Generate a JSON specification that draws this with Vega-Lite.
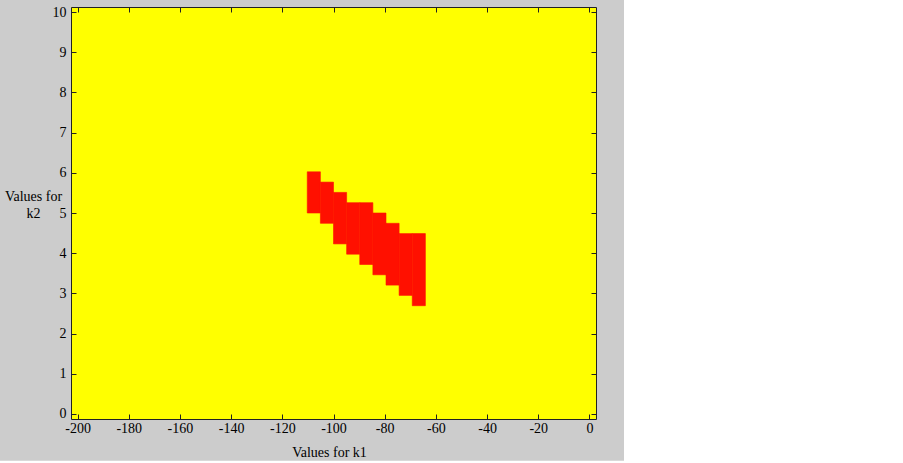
{
  "$schema": "https://vega.github.io/schema/vega-lite/v6.json",
  "width": 525,
  "height": 412,
  "autosize": {"type": "none"},
  "padding": {"left": 71, "top": 7, "right": 307, "bottom": 44},
  "background": "white",
  "config": {
    "view": {"stroke": null},
    "axis": {
      "grid": false,
      "labelFont": "Liberation Serif",
      "titleFont": "Liberation Serif",
      "labelFontSize": 14,
      "titleFontSize": 14,
      "titleFontWeight": "normal",
      "labelColor": "black",
      "titleColor": "black",
      "domainColor": "#222222",
      "tickColor": "#222222",
      "domainWidth": 1,
      "tickWidth": 1,
      "tickSize": -5
    }
  },
  "datasets": {
    "region": [
      {"k1_from": -110.2564, "k1_to": -105.1282, "k2_from": 5.0, "k2_to": 6.0256},
      {"k1_from": -105.1282, "k1_to": -100.0, "k2_from": 4.7436, "k2_to": 5.7692},
      {"k1_from": -100.0, "k1_to": -94.8718, "k2_from": 4.2308, "k2_to": 5.5128},
      {"k1_from": -94.8718, "k1_to": -89.7436, "k2_from": 3.9744, "k2_to": 5.2564},
      {"k1_from": -89.7436, "k1_to": -84.6154, "k2_from": 3.7179, "k2_to": 5.2564},
      {"k1_from": -84.6154, "k1_to": -79.4872, "k2_from": 3.4615, "k2_to": 5.0},
      {"k1_from": -79.4872, "k1_to": -74.359, "k2_from": 3.2051, "k2_to": 4.7436},
      {"k1_from": -74.359, "k1_to": -69.2308, "k2_from": 2.9487, "k2_to": 4.4872},
      {"k1_from": -69.2308, "k1_to": -64.1026, "k2_from": 2.6923, "k2_to": 4.4872}
    ]
  },
  "layer": [
    {
      "data": {"values": [{}]},
      "mark": {"type": "rect", "color": "#cccccc", "clip": false},
      "encoding": {
        "x": {"datum": -230.3, "type": "quantitative", "scale": {"domain": [-202.564, 2.564], "nice": false, "zero": false}, "axis": null},
        "x2": {"datum": 13.5},
        "y": {"datum": 10.31, "type": "quantitative", "scale": {"domain": [-0.128, 10.128], "nice": false, "zero": false}, "axis": null},
        "y2": {"datum": -1.17}
      }
    },
    {
      "data": {"values": [{}]},
      "mark": {"type": "rect", "color": "#ffff00"},
      "encoding": {
        "x": {"datum": -202.564, "type": "quantitative", "scale": {"domain": [-202.564, 2.564], "nice": false, "zero": false},
          "axis": {"orient": "top", "zindex": 2, "labels": false, "title": null, "values": [-200, -180, -160, -140, -120, -100, -80, -60, -40, -20, 0]}},
        "x2": {"datum": 2.564},
        "y": {"datum": -0.128, "type": "quantitative", "scale": {"domain": [-0.128, 10.128], "nice": false, "zero": false},
          "axis": {"orient": "right", "zindex": 2, "labels": false, "title": null, "values": [0, 1, 2, 3, 4, 5, 6, 7, 8, 9, 10]}},
        "y2": {"datum": 10.128}
      }
    },
    {
      "data": {"name": "region"},
      "mark": {"type": "rect", "color": "#ff1000", "stroke": "#ff1000", "strokeWidth": 0.6},
      "encoding": {
        "x": {"field": "k1_from", "type": "quantitative", "scale": {"domain": [-202.564, 2.564], "nice": false, "zero": false},
          "axis": {"orient": "bottom", "zindex": 2, "title": "Values for k1", "values": [-200, -180, -160, -140, -120, -100, -80, -60, -40, -20, 0],
            "labelExpr": "'' + datum.value", "labelPadding": 7, "titleX": 258, "titleY": 37, "titleAlign": "center", "titleBaseline": "alphabetic"}},
        "x2": {"field": "k1_to"},
        "y": {"field": "k2_from", "type": "quantitative", "scale": {"domain": [-0.128, 10.128], "nice": false, "zero": false},
          "axis": {"orient": "left", "zindex": 2, "title": ["Values for", "k2"], "values": [0, 1, 2, 3, 4, 5, 6, 7, 8, 9, 10],
            "labelPadding": 10, "titleAngle": 0, "titleX": -38, "titleY": 193, "titleAlign": "center", "titleBaseline": "alphabetic", "titleLineHeight": 17}},
        "y2": {"field": "k2_to"}
      }
    }
  ],
  "resolve": {"axis": {"x": "independent", "y": "independent"}}
}
